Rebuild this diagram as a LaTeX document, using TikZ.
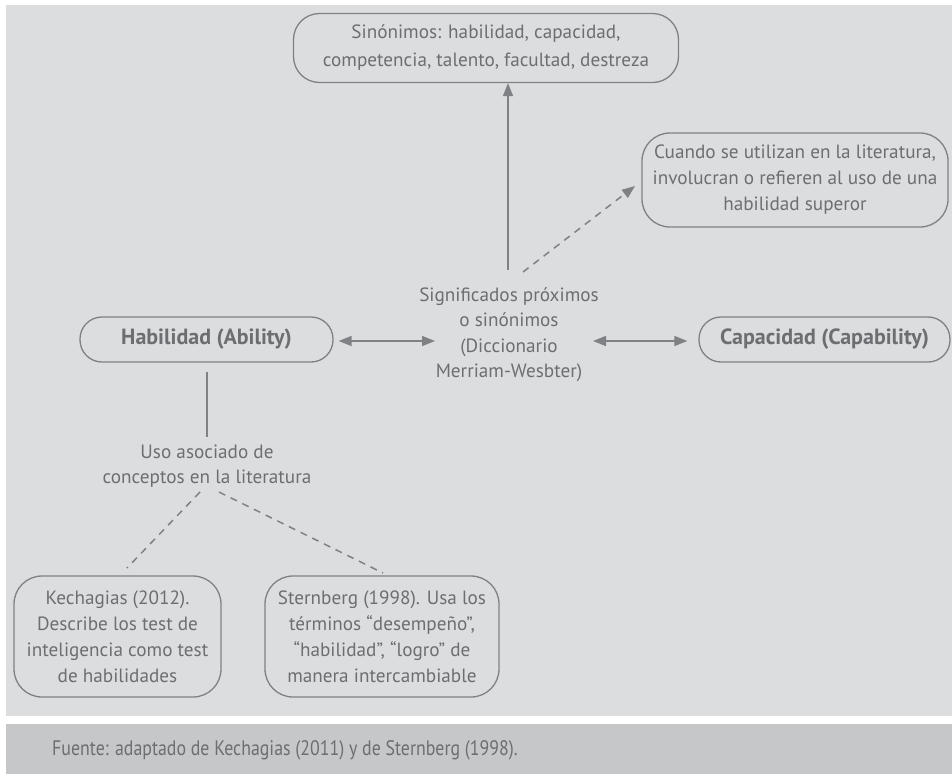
\documentclass[tikz,border=0pt]{standalone}
\usepackage{fontspec}
\usepackage{graphicx}
\setmainfont{PT Sans}
\usetikzlibrary{arrows.meta}
\definecolor{panel}{HTML}{DCDDDF}
\definecolor{foot}{HTML}{C6C7C9}
\definecolor{txt}{HTML}{6D6E71}
\definecolor{ln}{HTML}{808184}
\begin{document}
\begin{tikzpicture}[x=1pt,y=-1pt,
  every node/.style={text=txt},
  bx/.style={draw=ln, line width=1.3pt, rounded corners=22pt, inner sep=0pt, align=center,
    font=\fontsize{19.2}{26}\selectfont},
  tbx/.style={bx, rounded corners=28pt},
  bbx/.style={bx, font=\bfseries\fontsize{22}{26}\selectfont},
  lbl/.style={align=center, inner sep=0pt, font=\fontsize{19.2}{25.5}\selectfont},
  con/.style={draw=ln, line width=1.5pt},
  arr/.style={con, -{Triangle[length=13pt,width=10pt]}},
  darr/.style={con, {Triangle[length=13pt,width=10pt]}-{Triangle[length=13pt,width=10pt]}},
  dsh/.style={dash pattern=on 7pt off 6pt}
]
\useasboundingbox (0,0) rectangle (952,774);
\fill[white] (0,0) rectangle (952,774);
\fill[panel] (6,5) rectangle (952,716);
\fill[foot] (6,724) rectangle (952,774);

\node[bx, rounded corners=26pt, minimum width=385pt, minimum height=69pt, font=\fontsize{19.2}{28}\selectfont] (top) at (486,48)
  {Sinónimos: habilidad, capacidad,\\competencia, talento, facultad, destreza};
\node[tbx, minimum width=306pt, minimum height=94pt] (cuando) at (795,180)
  {Cuando se utilizan en la literatura,\\involucran o refieren al uso de una\\habilidad superor};
\node[bbx, minimum width=253pt, minimum height=45pt] (hab) at (206.5,339.5)
  {Habilidad (Ability)};
\node[bbx, minimum width=251pt, minimum height=45pt] (cap) at (824.5,339.5)
  {Capacidad (Capability)};
\node[lbl] (sig) at (509,334.5)
  {Significados próximos\\o sinónimos\\(Diccionario\\Merriam-Wesbter)};
\node[lbl] (uso) at (207,466)
  {Uso asociado de\\conceptos en la literatura};
\node[tbx, minimum width=207pt, minimum height=121pt] (kech) at (117.5,636.5)
  {Kechagias (2012).\\Describe los test de\\inteligencia como test\\de habilidades};
\node[tbx, minimum width=234pt, minimum height=121pt] (stern) at (382,636.5)
  {Sternberg (1998). Usa los\\términos “desempeño”,\\“habilidad”, “logro” de\\manera intercambiable};
\node[anchor=west, inner sep=0pt, font=\fontsize{21}{24}\selectfont] (fuente) at (52,750)
  {\scalebox{0.85}[1]{Fuente: adaptado de Kechagias (2011) y de Sternberg (1998).}};

\coordinate (s1) at (508,270);
\coordinate (s2) at (523,272);
\coordinate (c1) at (635,186);
\coordinate (la) at (435,341);
\coordinate (ra) at (593,341);
\coordinate (h1) at (207,372);
\coordinate (h2) at (207,437);
\coordinate (u1) at (200,492);
\coordinate (u2) at (219,492);
\coordinate (k1) at (127,568);
\coordinate (t1) at (383,573);

\draw[arr] (s1) -- (s1 |- top.south);
\draw[arr, dsh] (s2) -- (c1);
\draw[darr] ([xshift=5pt]hab.east |- la) -- (la);
\draw[darr] (ra) -- ([xshift=-11pt]cap.west |- ra);
\draw[con] (h1) -- (h2);
\draw[con, dsh] (u1) -- (k1);
\draw[con, dsh] (u2) -- (t1);
\end{tikzpicture}
\end{document}
